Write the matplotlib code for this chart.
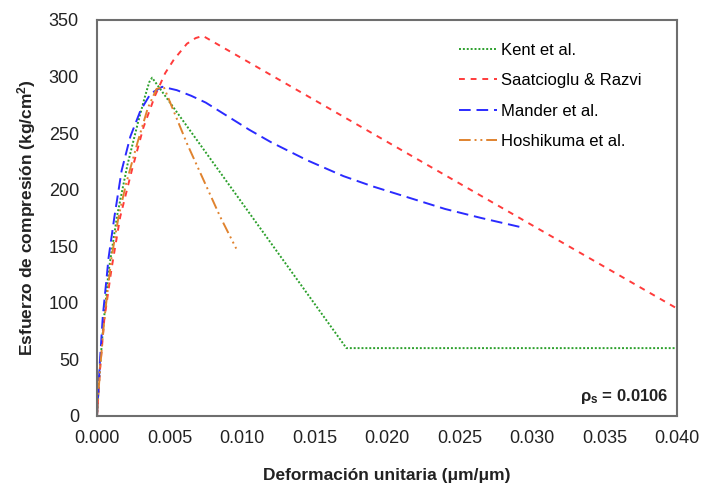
import matplotlib
matplotlib.use("Agg")
import matplotlib.pyplot as plt

plt.rcParams['font.family'] = ['Liberation Sans', 'DejaVu Sans']
plt.rcParams['mathtext.fontset'] = 'custom'
plt.rcParams['mathtext.rm'] = 'Liberation Sans'
plt.rcParams['mathtext.bf'] = 'Liberation Sans:bold'
plt.rcParams['mathtext.it'] = 'Liberation Sans:italic'

# Kent et al.
kent_x = [0, 0.0002, 0.0004, 0.0008, 0.0014, 0.0021, 0.0028, 0.0033, 0.0036, 0.0038, 0.0172, 0.040]
kent_y = [0, 42, 75, 128, 178, 222, 258, 282, 295, 299, 60, 60]
# Saatcioglu & Razvi
saat_x = [0, 0.0002, 0.0005, 0.0010, 0.0016, 0.0024, 0.0032, 0.0040, 0.0047, 0.0053, 0.0062, 0.0068, 0.0073, 0.040]
saat_y = [0, 40, 85, 130, 176, 217, 255, 283, 303, 315, 329, 334, 336, 95]
# Mander et al.
mand_x = [0, 0.0002, 0.0004, 0.0008, 0.0012, 0.0017, 0.0023, 0.0030, 0.0037, 0.0045, 0.0055, 0.0065, 0.0075,
          0.0090, 0.0105, 0.0120, 0.0145, 0.0170, 0.0190, 0.0215, 0.0240, 0.0265, 0.0292]
mand_y = [0, 48, 88, 140, 176, 217, 247, 270, 285, 291, 288, 283, 277,
          265, 253, 242, 226, 212, 203, 193, 183, 175, 167]
# Hoshikuma et al.
hosh_x = [0, 0.0002, 0.0005, 0.0010, 0.0015, 0.0020, 0.0028, 0.0035, 0.0041, 0.0046, 0.0062, 0.0085, 0.0096]
hosh_y = [0, 40, 85, 140, 177, 205, 242, 272, 289, 291, 241, 176, 148]

xticks = [0.000, 0.005, 0.010, 0.015, 0.020, 0.025, 0.030, 0.035, 0.040]
yticks = [0, 50, 100, 150, 200, 250, 300, 350]

fig = plt.figure(figsize=(7.05, 4.91), dpi=100)
ax = fig.add_axes([97/705, 75/491, 580/705, 396/491])

lw = 1.4
ax.plot(kent_x, kent_y, color='#2ca02c', lw=lw, linestyle=(0, (1, 1)), label='Kent et al.')
ax.plot(saat_x, saat_y, color='#ff3b3b', lw=lw, linestyle=(0, (3, 3)), label='Saatcioglu & Razvi')
ax.plot(mand_x, mand_y, color='#2b2bff', lw=lw, linestyle=(0, (6, 3)), label='Mander et al.')
ax.plot(hosh_x, hosh_y, color='#e0832f', lw=lw, linestyle=(0, (6, 2, 1, 2, 1, 2)), label='Hoshikuma et al.')

ax.set_xlim(0, 0.040)
ax.set_ylim(0, 350)
ax.set_xticks(xticks)
ax.set_xticklabels([f'{v:.3f}' for v in xticks])
ax.set_yticks(yticks)
ax.tick_params(length=0, labelsize=13, colors='#222222')
ax.tick_params(axis='x', pad=10)
ax.tick_params(axis='y', pad=13)
for s in ax.spines.values():
    s.set_color('#6e6e6e')
    s.set_linewidth(1.5)

ax.set_xlabel('Deformación unitaria (μm/μm)', fontsize=12.5, fontweight='bold', labelpad=15, color='#222222')
ax.set_ylabel('Esfuerzo de compresión (kg/cm$^\\mathbf{2}$)', fontsize=12.5, fontweight='bold', labelpad=8, color='#222222')

leg = ax.legend(loc='upper left', bbox_to_anchor=(0.624, 0.943), frameon=False, fontsize=12,
                handlelength=2.3, handletextpad=0.25, labelspacing=0.93, borderpad=0, borderaxespad=0)

ax.text(0.985, 0.025, 'ρ$_\\mathbf{s}$ = 0.0106', transform=ax.transAxes, ha='right', va='bottom',
        fontsize=12, fontweight='bold', color='#222222')

fig.savefig('out.png', dpi=100)
